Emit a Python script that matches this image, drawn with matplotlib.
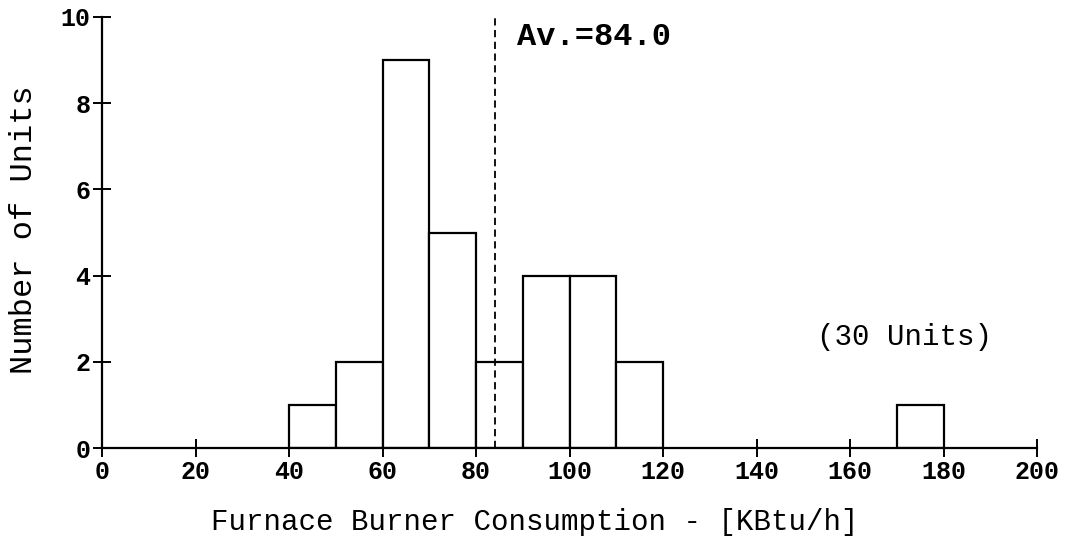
import numpy as np
import matplotlib

matplotlib.use('Agg')
import matplotlib.pyplot as plt

# 燃烧器耗量分布 (每10 KBtu/h 一个区间)
bin_left = [40, 50, 60, 70, 80, 90, 100, 110, 170]
counts = [1, 2, 9, 5, 2, 4, 4, 2, 1]
bin_width = 10
average = 84.0
x_ticks = [0, 20, 40, 60, 80, 100, 120, 140, 160, 180, 200]
y_ticks = [0, 2, 4, 6, 8, 10]

FONT = 'Liberation Mono'

fig = plt.figure(figsize=(10.71, 5.52), dpi=100)
ax = fig.add_axes([102 / 1071, 1 - 448 / 552, (1037 - 102) / 1071, (448 - 17) / 552])

ax.bar(bin_left, counts, width=bin_width, align='edge',
       facecolor='white', edgecolor='black', linewidth=1.6, zorder=2)

# 平均值虚线
ax.plot([average, average], [0, 10], color='black', linewidth=1.3,
        linestyle=(0, (4, 2.5)), zorder=3, clip_on=False)
ax.text(88.8, 9.53, f'Av.={average:.1f}', fontfamily=FONT, fontsize=23,
        fontweight='bold', va='center', ha='left')
ax.text(153, 2.58, f'({sum(counts)} Units)', fontfamily=FONT, fontsize=21,
        va='center', ha='left')

ax.set_xlim(0, 200)
ax.set_ylim(0, 10)
ax.set_xticks(x_ticks)
ax.set_yticks(y_ticks)
for spine in ['top', 'right']:
    ax.spines[spine].set_visible(False)
for spine in ['left', 'bottom']:
    ax.spines[spine].set_linewidth(1.6)
ax.tick_params(direction='inout', length=13, width=1.4, pad=2,
               labelsize=18)
for lab in ax.get_xticklabels() + ax.get_yticklabels():
    lab.set_fontfamily(FONT)
    lab.set_fontweight('bold')

fig.text(535 / 1071, 1 - 522 / 552, 'Furnace Burner Consumption - [KBtu/h]',
         fontfamily=FONT, fontsize=21, ha='center', va='center')
fig.text(24 / 1071, 1 - 230 / 552, 'Number of Units', fontfamily=FONT,
         fontsize=23, rotation=90, ha='center', va='center')

fig.savefig('out.png', dpi=100)
